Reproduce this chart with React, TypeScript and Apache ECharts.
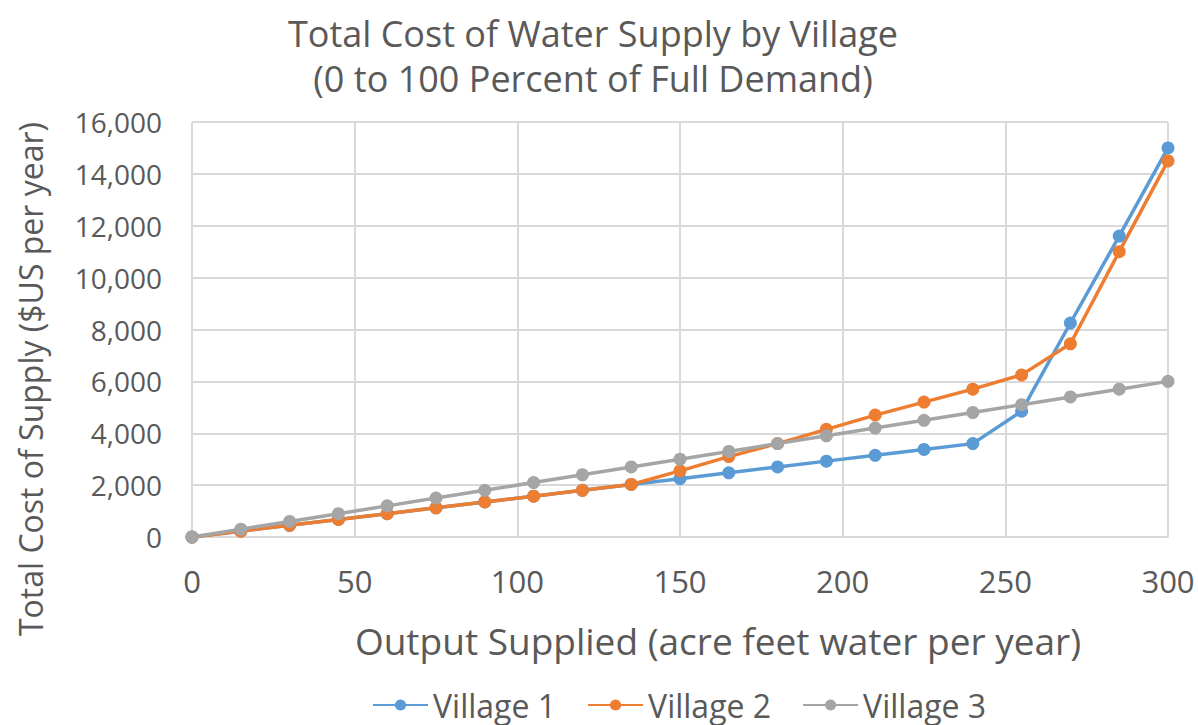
import React, { useEffect, useRef } from "react";
import * as echarts from "echarts";

const xValues = [0, 15, 30, 45, 60, 75, 90, 105, 120, 135, 150, 165, 180, 195, 210, 225, 240, 255, 270, 285, 300];
const village1 = [0, 225, 450, 675, 900, 1125, 1350, 1575, 1800, 2025, 2250, 2475, 2700, 2925, 3150, 3375, 3600, 4850, 8250, 11600, 15000];
const village2 = [0, 225, 450, 675, 900, 1125, 1350, 1575, 1800, 2025, 2550, 3100, 3600, 4150, 4700, 5200, 5700, 6250, 7450, 11000, 14500];
const village3 = [0, 300, 600, 900, 1200, 1500, 1800, 2100, 2400, 2700, 3000, 3300, 3600, 3900, 4200, 4500, 4800, 5100, 5400, 5700, 6000];
const seriesNames = ["Village 1", "Village 2", "Village 3"];
const colors = ["#5B9BD5", "#ED7D31", "#A5A5A5"];
const titleText = "Total Cost of Water Supply by Village\n(0 to 100 Percent of Full Demand)";
const xAxisTitle = "Output Supplied (acre feet water per year)";
const yAxisTitle = "Total Cost of Supply ($US per year)";

const FONT = "Open Sans";
const TXT = "#595959";

export default function App() {
  const ref = useRef<HTMLDivElement>(null);
  useEffect(() => {
    if (!ref.current) return;
    const chart = echarts.init(ref.current, undefined, { renderer: "svg" });
    const data = [village1, village2, village3];
    chart.setOption({
      animation: false,
      backgroundColor: "#ffffff",
      textStyle: { fontFamily: FONT, color: TXT },
      title: {
        text: titleText,
        left: 588,
        textAlign: "center",
        top: 6,
        textStyle: { fontFamily: FONT, fontSize: 36, fontWeight: "normal", color: TXT, lineHeight: 45 },
      },
      legend: {
        data: seriesNames,
        top: 687,
        left: 372,
        padding: 0,
        itemWidth: 55,
        itemHeight: 14,
        itemGap: 31,
        textStyle: { fontFamily: FONT, fontSize: 32, lineHeight: 36, color: TXT },
      },
      grid: { left: 192, right: 30, top: 122, bottom: 188 },
      graphic: [
        {
          type: "text",
          x: 30,
          y: 379,
          rotation: Math.PI / 2,
          style: {
            text: yAxisTitle,
            fontFamily: FONT,
            fontSize: 32,
            fill: TXT,
            align: "center",
            verticalAlign: "middle",
          },
        },
        {
          type: "text",
          x: 718,
          y: 640,
          style: {
            text: xAxisTitle,
            fontFamily: FONT,
            fontSize: 37,
            fill: TXT,
            align: "center",
            verticalAlign: "middle",
          },
        },
      ],
      xAxis: {
        type: "value",
        min: 0,
        max: 300,
        interval: 50,
        axisLine: { show: true, lineStyle: { color: "#d9d9d9", width: 2 } },
        axisTick: { show: false },
        axisLabel: { fontFamily: FONT, fontSize: 31, color: TXT, margin: 28 },
        splitLine: { show: true, lineStyle: { color: "#d9d9d9", width: 2 } },
      },
      yAxis: {
        type: "value",
        min: 0,
        max: 16000,
        interval: 2000,
        axisLine: { show: false },
        axisTick: { show: false },
        axisLabel: {
          fontFamily: FONT,
          fontSize: 28,
          color: TXT,
          margin: 30,
          formatter: (v: number) => v.toLocaleString("en-US"),
        },
        splitLine: { show: true, lineStyle: { color: "#d9d9d9", width: 2 } },
      },
      series: seriesNames.map((name, i) => ({
        name,
        type: "line",
        data: xValues.map((x, j) => [x, data[i][j]]),
        symbol: "circle",
        symbolSize: 13,
        color: colors[i],
        lineStyle: { width: 3.5, color: colors[i] },
        itemStyle: { color: colors[i] },
      })),
    });
    return () => chart.dispose();
  }, []);
  return <div ref={ref} style={{ position: "absolute", left: 0, top: 0, width: 1198, height: 725 }} />;
}
